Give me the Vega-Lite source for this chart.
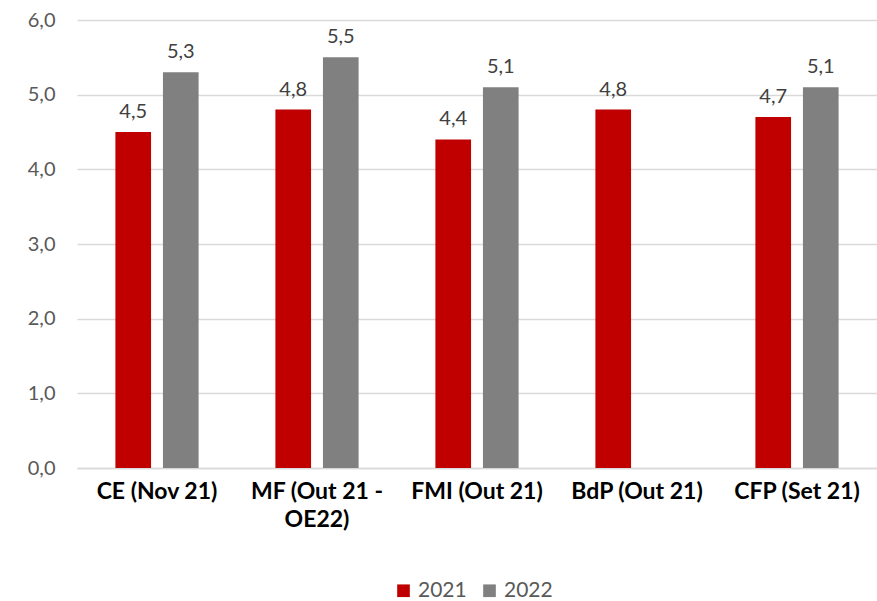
{
  "$schema": "https://vega.github.io/schema/vega-lite/v6.json",
  "width": 800,
  "height": 448,
  "autosize": {"type": "none"},
  "padding": {"left": 77, "top": 20, "right": 0, "bottom": 133},
  "background": "white",
  "config": {
    "locale": {"number": {"decimal": ",", "thousands": ".", "grouping": [3], "currency": ["", " €"]}},
    "view": {"stroke": null},
    "font": "Lato"
  },
  "data": {
    "values": [
      {"fonte": "CE (Nov 21)", "ano": "2021", "valor": 4.5},
      {"fonte": "CE (Nov 21)", "ano": "2022", "valor": 5.3},
      {"fonte": "MF (Out 21 - OE22)", "ano": "2021", "valor": 4.8},
      {"fonte": "MF (Out 21 - OE22)", "ano": "2022", "valor": 5.5},
      {"fonte": "FMI (Out 21)", "ano": "2021", "valor": 4.4},
      {"fonte": "FMI (Out 21)", "ano": "2022", "valor": 5.1},
      {"fonte": "BdP (Out 21)", "ano": "2021", "valor": 4.8},
      {"fonte": "CFP (Set 21)", "ano": "2021", "valor": 4.7},
      {"fonte": "CFP (Set 21)", "ano": "2022", "valor": 5.1}
    ]
  },
  "encoding": {
    "x": {
      "field": "fonte",
      "type": "nominal",
      "sort": null,
      "scale": {"paddingInner": 0.48, "paddingOuter": 0.24},
      "axis": {
        "title": null,
        "labelAngle": 0,
        "labelFontSize": 23,
        "labelFontWeight": "bold",
        "labelColor": "#000000",
        "labelPadding": 12,
        "labelLineHeight": 28,
        "labelExpr": "datum.label == 'MF (Out 21 - OE22)' ? ['MF (Out 21 -', 'OE22)'] : datum.label",
        "ticks": false,
        "domainColor": "#D9D9D9",
        "domainWidth": 1.5,
        "labelLimit": 300,
        "labelOverlap": false
      }
    },
    "xOffset": {
      "field": "ano",
      "type": "nominal",
      "scale": {"domain": ["2021", "2022"], "paddingInner": 0.25, "paddingOuter": 0}
    },
    "y": {
      "field": "valor",
      "type": "quantitative",
      "scale": {"domain": [0, 6]},
      "axis": {
        "title": null,
        "values": [0, 1, 2, 3, 4, 5, 6],
        "format": ".1f",
        "labelFontSize": 20,
        "labelColor": "#595959",
        "labelPadding": 22,
        "labelOverlap": false,
        "ticks": false,
        "domain": false,
        "gridColor": "#D9D9D9",
        "gridWidth": 1.5
      }
    }
  },
  "layer": [
    {
      "mark": {"type": "bar"},
      "encoding": {
        "color": {
          "field": "ano",
          "type": "nominal",
          "scale": {"domain": ["2021", "2022"], "range": ["#C00000", "#808080"]},
          "legend": {
            "title": null,
            "orient": "none",
            "direction": "horizontal",
            "legendX": 316,
            "legendY": 560,
            "symbolType": "square",
            "symbolSize": 160,
            "symbolStrokeWidth": 0,
            "labelFontSize": 21,
            "labelColor": "#595959",
            "labelOffset": 4,
            "columnPadding": 12
          }
        }
      }
    },
    {
      "mark": {"type": "text", "baseline": "alphabetic", "dy": -14, "fontSize": 20, "color": "#404040"},
      "encoding": {
        "text": {"field": "valor", "type": "quantitative", "format": ".1f"}
      }
    }
  ]
}
